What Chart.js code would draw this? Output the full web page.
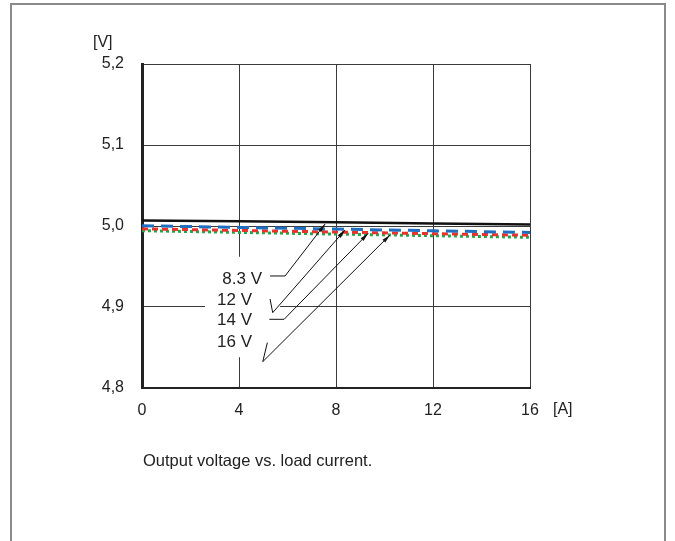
<!DOCTYPE html>
<html>
<head>
<meta charset="utf-8">
<script src="https://cdn.jsdelivr.net/npm/chart.js@4/dist/chart.umd.min.js"></script>
<style>
  html, body { margin: 0; padding: 0; background: #fff; }
  body { width: 675px; height: 541px; position: relative; overflow: hidden; font-family: "Liberation Sans", Arial, sans-serif; }
  #frame { position: absolute; left: 10px; top: 3px; width: 652px; height: 600px; border: 2px solid #8a8a8a; border-bottom: none; }
  #wrap { position: absolute; left: 0; top: 0; width: 675px; height: 541px; }
  #caption { position: absolute; left: 143px; top: 451px; font-size: 16.5px; color: #222; }
</style>
</head>
<body>
<div id="frame"></div>
<div id="wrap"><canvas id="chartVout"></canvas></div>
<div id="caption">Output voltage vs. load current.</div>
<script>
// datos
const loadCurrent = [0, 4, 8, 12, 16];           // [A]
const vout83 = [5.0068, 5.0060, 5.0046, 5.0031, 5.0020];
const vout12 = [5.0003, 4.9983, 4.9962, 4.9941, 4.9920];
const vout14 = [4.9965, 4.9945, 4.9925, 4.9905, 4.9886];
const vout16 = [4.9942, 4.9921, 4.9900, 4.9880, 4.9860];
const seriesLabels = ["8.3 V", "12 V", "14 V", "16 V"];
const xTicks = [0, 4, 8, 12, 16];
const yTicks = [4.8, 4.9, 5.0, 5.1, 5.2];

// etiquetas y flechas (coordenadas de datos)
const labelAnchors = [[4.95, 4.9346], [4.54, 4.9086], [4.54, 4.8830], [4.54, 4.8570]];
const leaderPaths = [
  [[5.28, 4.9383], [5.90, 4.9383], [7.55, 5.0025]],
  [[5.28, 4.9099], [5.39, 4.8930], [8.37, 4.9950]],
  [[5.25, 4.8848], [5.86, 4.8848], [9.33, 4.9910]],
  [[5.17, 4.8560], [4.98, 4.8325], [10.23, 4.9890]],
];
const labelBox = [2.6, 4.962, 5.69, 4.838];

const textColor = "#222222";
const gridColor = "#3a3a3a";
const fontFam = "'Liberation Sans', Arial, sans-serif";

const toPoints = (ys) => loadCurrent.map((x, i) => ({ x: x, y: ys[i] }));

const annotations = {
  id: "annotations",
  beforeDatasetsDraw(chart) {
    const { ctx, scales: { x, y } } = chart;
    ctx.save();
    ctx.fillStyle = "#ffffff";
    const x0 = x.getPixelForValue(labelBox[0]), y0 = y.getPixelForValue(labelBox[1]);
    const x1 = x.getPixelForValue(labelBox[2]), y1 = y.getPixelForValue(labelBox[3]);
    ctx.fillRect(x0, y0, x1 - x0, y1 - y0);
    ctx.restore();
  },
  afterDatasetsDraw(chart) {
    const { ctx, scales: { x, y } } = chart;
    ctx.save();
    ctx.strokeStyle = "#111";
    ctx.fillStyle = "#111";
    ctx.lineWidth = 1;
    leaderPaths.forEach((path) => {
      const pts = path.map((p) => [x.getPixelForValue(p[0]), y.getPixelForValue(p[1])]);
      ctx.beginPath();
      ctx.moveTo(pts[0][0], pts[0][1]);
      for (let i = 1; i < pts.length; i++) ctx.lineTo(pts[i][0], pts[i][1]);
      ctx.stroke();
      // punta de flecha
      const a = pts[pts.length - 2], b = pts[pts.length - 1];
      const ang = Math.atan2(b[1] - a[1], b[0] - a[0]);
      ctx.beginPath();
      ctx.moveTo(b[0], b[1]);
      ctx.lineTo(b[0] - 9 * Math.cos(ang - 0.22), b[1] - 9 * Math.sin(ang - 0.22));
      ctx.lineTo(b[0] - 9 * Math.cos(ang + 0.22), b[1] - 9 * Math.sin(ang + 0.22));
      ctx.closePath();
      ctx.fill();
    });
    ctx.fillStyle = textColor;
    ctx.font = "17px " + fontFam;
    ctx.textAlign = "right";
    ctx.textBaseline = "middle";
    seriesLabels.forEach((t, i) => {
      ctx.fillText(t, x.getPixelForValue(labelAnchors[i][0]), y.getPixelForValue(labelAnchors[i][1]));
    });
    // unidades de los ejes
    ctx.font = "16px " + fontFam;
    ctx.textAlign = "left";
    ctx.fillText("[V]", 93, 43);
    ctx.fillText("[A]", x.right + 23, y.bottom + 22);
    ctx.restore();
  },
};

new Chart(document.getElementById("chartVout").getContext("2d"), {
  type: "line",
  data: {
    datasets: [
      { label: seriesLabels[0], data: toPoints(vout83), borderColor: "#111111", borderWidth: 2.5 },
      { label: seriesLabels[1], data: toPoints(vout12), borderColor: "#1f6fc0", borderWidth: 3, borderDash: [12, 7] },
      { label: seriesLabels[2], data: toPoints(vout14), borderColor: "#e8322b", borderWidth: 3, borderDash: [6, 4] },
      { label: seriesLabels[3], data: toPoints(vout16), borderColor: "#22a84a", borderWidth: 3, borderDash: [3, 3] },
    ],
  },
  options: {
    responsive: true,
    maintainAspectRatio: false,
    animation: false,
    elements: { point: { radius: 0 }, line: { tension: 0 } },
    layout: { padding: { left: 0, top: 64, right: 145, bottom: 113 } },
    plugins: { legend: { display: false }, tooltip: { enabled: false } },
    scales: {
      x: {
        type: "linear",
        min: 0,
        max: 16,
        afterFit: (s) => { s.height = 40; },
        afterBuildTicks: (s) => { s.ticks = xTicks.map((v) => ({ value: v })); },
        grid: { color: gridColor, lineWidth: 1, drawTicks: false },
        border: { color: "#222", width: 2 },
        ticks: { color: textColor, padding: 13, font: { family: fontFam, size: 16 } },
      },
      y: {
        min: 4.8,
        max: 5.2,
        afterFit: (s) => { s.width = 142; },
        afterBuildTicks: (s) => { s.ticks = yTicks.map((v) => ({ value: v })); },
        grid: { color: gridColor, lineWidth: 1, drawTicks: false },
        border: { color: "#222", width: 3 },
        ticks: {
          color: textColor,
          padding: 18,
          font: { family: fontFam, size: 16 },
          callback: (v) => v.toFixed(1).replace(".", ","),
        },
      },
    },
  },
  plugins: [annotations],
});
</script>
</body>
</html>
